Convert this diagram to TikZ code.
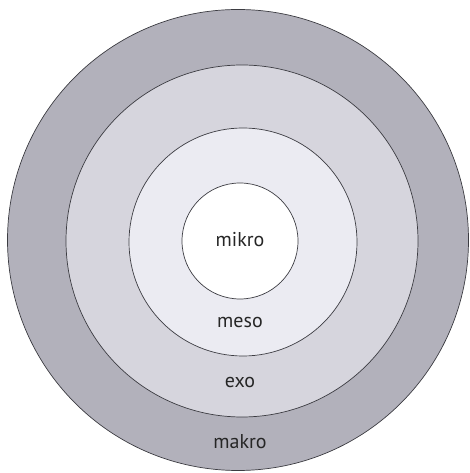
\documentclass[tikz,border=0pt]{standalone}
\usepackage{fontspec}
\setmainfont{PT Sans}
\definecolor{ringdark}{RGB}{178,177,187}
\definecolor{ringmid}{RGB}{214,213,221}
\definecolor{ringlight}{RGB}{235,235,242}
\definecolor{ringline}{RGB}{60,60,66}
\usetikzlibrary{positioning}

\begin{document}
\begin{tikzpicture}[
  x=1pt, y=1pt,
  ring/.style={circle,draw=ringline,line width=0.7pt,inner sep=0pt},
  lbl/.style={font=\fontsize{20}{23}\selectfont,text=black!85},
]
  \useasboundingbox (0,0) rectangle (470,473);

  % Rings
  \node[ring,fill=ringdark,minimum size=461pt]  (makro) at (238,233) {};
  \node[ring,fill=ringmid,minimum size=352pt]   (exo)   at (242,232) {};
  \node[ring,fill=ringlight,minimum size=228pt] (meso)  at (243,231) {};
  \node[ring,fill=white,minimum size=116pt]     (mikro) at (240,232) {};

  % Labels
  \node[lbl] (mikrolbl) at (240,233) {mikro};
  \node[lbl] (mesolbl)  at (240,150) {meso};
  \node[lbl] (exolbl)   at (240,90)  {exo};
  \node[lbl] (makrolbl) at (240,31)  {makro};
\end{tikzpicture}
\end{document}
